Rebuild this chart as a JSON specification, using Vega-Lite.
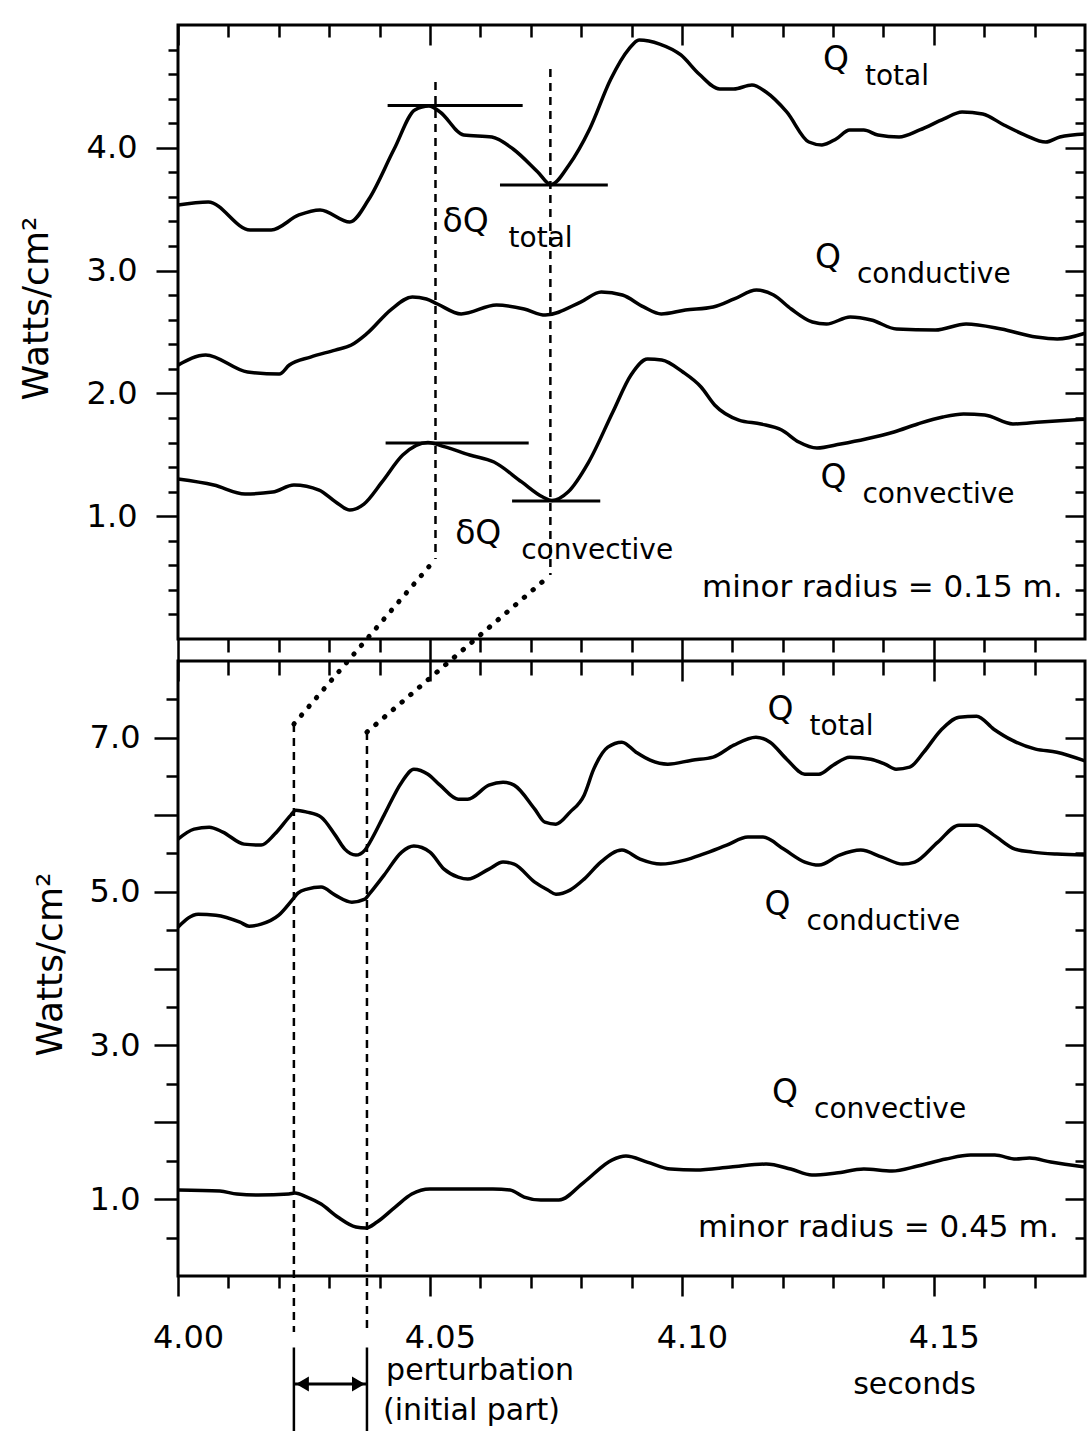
{
  "$schema": "https://vega.github.io/schema/vega-lite/v6.json",
  "background": "white",
  "padding": {"left": 16, "top": 22, "right": 0, "bottom": 0},
  "spacing": 22,
  "bounds": "flush",
  "config": {
    "font": "DejaVu Sans",
    "view": {"stroke": "black", "strokeWidth": 3},
    "axis": {
      "domain": false, "grid": false, "tickColor": "black", "tickWidth": 2.5,
      "labelColor": "black", "labelFont": "DejaVu Sans", "labelFontSize": 32,
      "labelFlush": false, "labelOverlap": false, "labelBound": false,
      "titleFont": "DejaVu Sans", "titleFontSize": 36, "titleFontWeight": "normal", "titleColor": "black"
    },
    "text": {"font": "DejaVu Sans", "color": "black"}
  },
  "datasets": {
    "tq": [
      {"s":"total","t":4.0000,"v":3.534},{"s":"total","t":4.0060,"v":3.559},{"s":"total","t":4.0143,"v":3.331},{"s":"total","t":4.0185,"v":3.331},{"s":"total","t":4.0240,"v":3.453},{"s":"total","t":4.0282,"v":3.494},{"s":"total","t":4.0341,"v":3.396},{"s":"total","t":4.0379,"v":3.583},{"s":"total","t":4.0429,"v":3.990},{"s":"total","t":4.0470,"v":4.308},{"s":"total","t":4.0498,"v":4.340},{"s":"total","t":4.0520,"v":4.292},{"s":"total","t":4.0567,"v":4.104},{"s":"total","t":4.0623,"v":4.088},{"s":"total","t":4.0665,"v":3.990},{"s":"total","t":4.0714,"v":3.803},{"s":"total","t":4.0740,"v":3.700},{"s":"total","t":4.0776,"v":3.860},{"s":"total","t":4.0817,"v":4.153},{"s":"total","t":4.0859,"v":4.560},{"s":"total","t":4.0895,"v":4.805},{"s":"total","t":4.0915,"v":4.878},{"s":"total","t":4.0956,"v":4.845},{"s":"total","t":4.0998,"v":4.756},{"s":"total","t":4.1034,"v":4.601},{"s":"total","t":4.1075,"v":4.479},{"s":"total","t":4.1103,"v":4.479},{"s":"total","t":4.1139,"v":4.511},{"s":"total","t":4.1167,"v":4.454},{"s":"total","t":4.1208,"v":4.292},{"s":"total","t":4.1252,"v":4.047},{"s":"total","t":4.1278,"v":4.023},{"s":"total","t":4.1306,"v":4.072},{"s":"total","t":4.1333,"v":4.145},{"s":"total","t":4.1361,"v":4.145},{"s":"total","t":4.1389,"v":4.104},{"s":"total","t":4.1431,"v":4.088},{"s":"total","t":4.1472,"v":4.145},{"s":"total","t":4.1520,"v":4.235},{"s":"total","t":4.1556,"v":4.292},{"s":"total","t":4.1597,"v":4.275},{"s":"total","t":4.1639,"v":4.186},{"s":"total","t":4.1681,"v":4.104},{"s":"total","t":4.1722,"v":4.047},{"s":"total","t":4.1750,"v":4.088},{"s":"total","t":4.1800,"v":4.112},
      {"s":"conductive","t":4.0000,"v":2.230},{"s":"conductive","t":4.0055,"v":2.313},{"s":"conductive","t":4.0138,"v":2.174},{"s":"conductive","t":4.0201,"v":2.158},{"s":"conductive","t":4.0221,"v":2.231},{"s":"conductive","t":4.0263,"v":2.296},{"s":"conductive","t":4.0312,"v":2.353},{"s":"conductive","t":4.0344,"v":2.394},{"s":"conductive","t":4.0374,"v":2.484},{"s":"conductive","t":4.0424,"v":2.687},{"s":"conductive","t":4.0465,"v":2.785},{"s":"conductive","t":4.0493,"v":2.769},{"s":"conductive","t":4.0515,"v":2.728},{"s":"conductive","t":4.0562,"v":2.647},{"s":"conductive","t":4.0632,"v":2.720},{"s":"conductive","t":4.0687,"v":2.687},{"s":"conductive","t":4.0729,"v":2.638},{"s":"conductive","t":4.0799,"v":2.744},{"s":"conductive","t":4.0840,"v":2.826},{"s":"conductive","t":4.0882,"v":2.801},{"s":"conductive","t":4.0924,"v":2.704},{"s":"conductive","t":4.0959,"v":2.647},{"s":"conductive","t":4.1007,"v":2.679},{"s":"conductive","t":4.1062,"v":2.704},{"s":"conductive","t":4.1104,"v":2.769},{"s":"conductive","t":4.1148,"v":2.842},{"s":"conductive","t":4.1182,"v":2.801},{"s":"conductive","t":4.1217,"v":2.687},{"s":"conductive","t":4.1259,"v":2.581},{"s":"conductive","t":4.1287,"v":2.565},{"s":"conductive","t":4.1334,"v":2.622},{"s":"conductive","t":4.1376,"v":2.598},{"s":"conductive","t":4.1426,"v":2.524},{"s":"conductive","t":4.1503,"v":2.516},{"s":"conductive","t":4.1564,"v":2.565},{"s":"conductive","t":4.1634,"v":2.524},{"s":"conductive","t":4.1703,"v":2.459},{"s":"conductive","t":4.1745,"v":2.443},{"s":"conductive","t":4.1800,"v":2.490},
      {"s":"convective","t":4.0000,"v":1.303},{"s":"convective","t":4.0071,"v":1.254},{"s":"convective","t":4.0133,"v":1.181},{"s":"convective","t":4.0188,"v":1.197},{"s":"convective","t":4.0230,"v":1.254},{"s":"convective","t":4.0280,"v":1.213},{"s":"convective","t":4.0313,"v":1.116},{"s":"convective","t":4.0341,"v":1.050},{"s":"convective","t":4.0369,"v":1.099},{"s":"convective","t":4.0405,"v":1.279},{"s":"convective","t":4.0446,"v":1.498},{"s":"convective","t":4.0496,"v":1.600},{"s":"convective","t":4.0530,"v":1.564},{"s":"convective","t":4.0579,"v":1.498},{"s":"convective","t":4.0627,"v":1.441},{"s":"convective","t":4.0682,"v":1.279},{"s":"convective","t":4.0724,"v":1.156},{"s":"convective","t":4.0742,"v":1.128},{"s":"convective","t":4.0774,"v":1.197},{"s":"convective","t":4.0815,"v":1.441},{"s":"convective","t":4.0863,"v":1.849},{"s":"convective","t":4.0899,"v":2.150},{"s":"convective","t":4.0932,"v":2.280},{"s":"convective","t":4.0960,"v":2.272},{"s":"convective","t":4.1002,"v":2.174},{"s":"convective","t":4.1038,"v":2.052},{"s":"convective","t":4.1065,"v":1.906},{"s":"convective","t":4.1113,"v":1.783},{"s":"convective","t":4.1157,"v":1.751},{"s":"convective","t":4.1198,"v":1.702},{"s":"convective","t":4.1232,"v":1.604},{"s":"convective","t":4.1268,"v":1.555},{"s":"convective","t":4.1315,"v":1.588},{"s":"convective","t":4.1365,"v":1.629},{"s":"convective","t":4.1421,"v":1.686},{"s":"convective","t":4.1468,"v":1.751},{"s":"convective","t":4.1518,"v":1.808},{"s":"convective","t":4.1559,"v":1.832},{"s":"convective","t":4.1601,"v":1.824},{"s":"convective","t":4.1657,"v":1.751},{"s":"convective","t":4.1712,"v":1.767},{"s":"convective","t":4.1800,"v":1.790}
    ],
    "bq": [
      {"s":"total","t":4.0000,"v":5.683},{"s":"total","t":4.0032,"v":5.813},{"s":"total","t":4.0062,"v":5.839},{"s":"total","t":4.0089,"v":5.774},{"s":"total","t":4.0131,"v":5.618},{"s":"total","t":4.0165,"v":5.605},{"s":"total","t":4.0192,"v":5.748},{"s":"total","t":4.0224,"v":5.995},{"s":"total","t":4.0234,"v":6.060},{"s":"total","t":4.0256,"v":6.034},{"s":"total","t":4.0284,"v":5.969},{"s":"total","t":4.0312,"v":5.735},{"s":"total","t":4.0331,"v":5.553},{"s":"total","t":4.0353,"v":5.475},{"s":"total","t":4.0371,"v":5.540},{"s":"total","t":4.0381,"v":5.644},{"s":"total","t":4.0409,"v":5.995},{"s":"total","t":4.0444,"v":6.424},{"s":"total","t":4.0468,"v":6.593},{"s":"total","t":4.0496,"v":6.528},{"s":"total","t":4.0520,"v":6.385},{"s":"total","t":4.0556,"v":6.203},{"s":"total","t":4.0575,"v":6.203},{"s":"total","t":4.0617,"v":6.385},{"s":"total","t":4.0645,"v":6.424},{"s":"total","t":4.0667,"v":6.385},{"s":"total","t":4.0708,"v":6.073},{"s":"total","t":4.0728,"v":5.904},{"s":"total","t":4.0750,"v":5.878},{"s":"total","t":4.0778,"v":6.034},{"s":"total","t":4.0806,"v":6.255},{"s":"total","t":4.0825,"v":6.593},{"s":"total","t":4.0853,"v":6.879},{"s":"total","t":4.0881,"v":6.944},{"s":"total","t":4.0909,"v":6.814},{"s":"total","t":4.0937,"v":6.710},{"s":"total","t":4.0972,"v":6.658},{"s":"total","t":4.1020,"v":6.710},{"s":"total","t":4.1062,"v":6.749},{"s":"total","t":4.1103,"v":6.905},{"s":"total","t":4.1147,"v":7.009},{"s":"total","t":4.1175,"v":6.944},{"s":"total","t":4.1208,"v":6.723},{"s":"total","t":4.1244,"v":6.528},{"s":"total","t":4.1272,"v":6.528},{"s":"total","t":4.1300,"v":6.645},{"s":"total","t":4.1333,"v":6.749},{"s":"total","t":4.1375,"v":6.723},{"s":"total","t":4.1403,"v":6.658},{"s":"total","t":4.1425,"v":6.593},{"s":"total","t":4.1452,"v":6.619},{"s":"total","t":4.1480,"v":6.814},{"s":"total","t":4.1514,"v":7.100},{"s":"total","t":4.1550,"v":7.269},{"s":"total","t":4.1585,"v":7.282},{"s":"total","t":4.1619,"v":7.113},{"s":"total","t":4.1655,"v":6.970},{"s":"total","t":4.1702,"v":6.853},{"s":"total","t":4.1744,"v":6.814},{"s":"total","t":4.1800,"v":6.700},
      {"s":"conductive","t":4.0000,"v":4.538},{"s":"conductive","t":4.0040,"v":4.707},{"s":"conductive","t":4.0075,"v":4.694},{"s":"conductive","t":4.0123,"v":4.603},{"s":"conductive","t":4.0141,"v":4.551},{"s":"conductive","t":4.0165,"v":4.577},{"s":"conductive","t":4.0200,"v":4.694},{"s":"conductive","t":4.0228,"v":4.902},{"s":"conductive","t":4.0238,"v":4.980},{"s":"conductive","t":4.0256,"v":5.033},{"s":"conductive","t":4.0284,"v":5.059},{"s":"conductive","t":4.0312,"v":4.954},{"s":"conductive","t":4.0345,"v":4.863},{"s":"conductive","t":4.0371,"v":4.902},{"s":"conductive","t":4.0381,"v":4.980},{"s":"conductive","t":4.0409,"v":5.215},{"s":"conductive","t":4.0444,"v":5.514},{"s":"conductive","t":4.0468,"v":5.592},{"s":"conductive","t":4.0500,"v":5.514},{"s":"conductive","t":4.0528,"v":5.293},{"s":"conductive","t":4.0556,"v":5.189},{"s":"conductive","t":4.0575,"v":5.163},{"s":"conductive","t":4.0617,"v":5.293},{"s":"conductive","t":4.0645,"v":5.384},{"s":"conductive","t":4.0667,"v":5.358},{"s":"conductive","t":4.0708,"v":5.124},{"s":"conductive","t":4.0734,"v":5.020},{"s":"conductive","t":4.0750,"v":4.967},{"s":"conductive","t":4.0778,"v":5.020},{"s":"conductive","t":4.0806,"v":5.163},{"s":"conductive","t":4.0839,"v":5.384},{"s":"conductive","t":4.0881,"v":5.540},{"s":"conductive","t":4.0917,"v":5.423},{"s":"conductive","t":4.0958,"v":5.358},{"s":"conductive","t":4.1006,"v":5.410},{"s":"conductive","t":4.1042,"v":5.488},{"s":"conductive","t":4.1089,"v":5.605},{"s":"conductive","t":4.1131,"v":5.709},{"s":"conductive","t":4.1161,"v":5.709},{"s":"conductive","t":4.1202,"v":5.553},{"s":"conductive","t":4.1244,"v":5.384},{"s":"conductive","t":4.1272,"v":5.345},{"s":"conductive","t":4.1313,"v":5.475},{"s":"conductive","t":4.1355,"v":5.540},{"s":"conductive","t":4.1397,"v":5.449},{"s":"conductive","t":4.1438,"v":5.358},{"s":"conductive","t":4.1462,"v":5.384},{"s":"conductive","t":4.1508,"v":5.644},{"s":"conductive","t":4.1550,"v":5.865},{"s":"conductive","t":4.1585,"v":5.865},{"s":"conductive","t":4.1619,"v":5.735},{"s":"conductive","t":4.1661,"v":5.553},{"s":"conductive","t":4.1696,"v":5.514},{"s":"conductive","t":4.1744,"v":5.488},{"s":"conductive","t":4.1800,"v":5.475},
      {"s":"convective","t":4.0000,"v":1.118},{"s":"convective","t":4.0083,"v":1.105},{"s":"convective","t":4.0117,"v":1.066},{"s":"convective","t":4.0159,"v":1.053},{"s":"convective","t":4.0220,"v":1.066},{"s":"convective","t":4.0232,"v":1.079},{"s":"convective","t":4.0256,"v":1.027},{"s":"convective","t":4.0284,"v":0.936},{"s":"convective","t":4.0317,"v":0.767},{"s":"convective","t":4.0353,"v":0.637},{"s":"convective","t":4.0373,"v":0.624},{"s":"convective","t":4.0395,"v":0.702},{"s":"convective","t":4.0431,"v":0.897},{"s":"convective","t":4.0464,"v":1.066},{"s":"convective","t":4.0500,"v":1.131},{"s":"convective","t":4.0548,"v":1.131},{"s":"convective","t":4.0625,"v":1.131},{"s":"convective","t":4.0659,"v":1.118},{"s":"convective","t":4.0687,"v":1.027},{"s":"convective","t":4.0720,"v":0.988},{"s":"convective","t":4.0756,"v":0.988},{"s":"convective","t":4.0806,"v":1.222},{"s":"convective","t":4.0861,"v":1.508},{"s":"convective","t":4.0889,"v":1.560},{"s":"convective","t":4.0931,"v":1.482},{"s":"convective","t":4.0978,"v":1.391},{"s":"convective","t":4.1028,"v":1.378},{"s":"convective","t":4.1097,"v":1.417},{"s":"convective","t":4.1167,"v":1.456},{"s":"convective","t":4.1216,"v":1.391},{"s":"convective","t":4.1258,"v":1.313},{"s":"convective","t":4.1306,"v":1.339},{"s":"convective","t":4.1361,"v":1.391},{"s":"convective","t":4.1417,"v":1.365},{"s":"convective","t":4.1468,"v":1.430},{"s":"convective","t":4.1524,"v":1.521},{"s":"convective","t":4.1573,"v":1.573},{"s":"convective","t":4.1621,"v":1.573},{"s":"convective","t":4.1663,"v":1.521},{"s":"convective","t":4.1690,"v":1.534},{"s":"convective","t":4.1732,"v":1.482},{"s":"convective","t":4.1800,"v":1.417}
    ],
    "tbars": [
      {"t1":4.0416,"t2":4.0684,"v":4.345},
      {"t1":4.0639,"t2":4.0853,"v":3.697},
      {"t1":4.0412,"t2":4.0696,"v":1.596},
      {"t1":4.0663,"t2":4.0838,"v":1.124}
    ],
    "tdash": [
      {"g":"A","t":4.0511,"v":4.536},{"g":"A","t":4.0511,"v":0.651},
      {"g":"B","t":4.0739,"v":4.642},{"g":"B","t":4.0739,"v":0.521}
    ],
    "bdot": [
      {"g":"A","t":4.0511,"v":9.327},{"g":"A","t":4.0230,"v":7.180},
      {"g":"B","t":4.0739,"v":9.119},{"g":"B","t":4.0375,"v":7.076}
    ],
    "bdash": [
      {"g":"A","t":4.0230,"v":7.180},{"g":"A","t":4.0230,"v":-0.73},
      {"g":"B","t":4.0375,"v":7.076},{"g":"B","t":4.0375,"v":-0.73}
    ],
    "bsolid": [
      {"g":"A","t":4.0230,"v":-0.93},{"g":"A","t":4.0230,"v":-2.1},
      {"g":"B","t":4.0375,"v":-0.93},{"g":"B","t":4.0375,"v":-2.1}
    ],
    "arrow": [{"t1":4.0230,"t2":4.0375,"v":-1.405}],
    "heads": [{"end":"left","t":4.0247,"v":-1.405},{"end":"right","t":4.0358,"v":-1.405}],
    "tlab": [
      {"main":"Q","sub":"total","kind":"Q","t":4.1280,"v":4.634},
      {"main":"Q","sub":"conductive","kind":"Q","t":4.1264,"v":3.021},
      {"main":"Q","sub":"convective","kind":"Q","t":4.1275,"v":1.230},
      {"main":"δQ","sub":"total","kind":"dQ","t":4.0525,"v":3.314},
      {"main":"δQ","sub":"convective","kind":"dQ","t":4.0550,"v":0.774}
    ],
    "tnote": [{"text":"minor radius = 0.15 m.","t":4.1040,"v":0.342}],
    "blab": [
      {"main":"Q","sub":"total","t":4.1170,"v":7.233},
      {"main":"Q","sub":"conductive","t":4.1164,"v":4.696},
      {"main":"Q","sub":"convective","t":4.1179,"v":2.250}
    ],
    "bnote": [{"text":"minor radius = 0.45 m.","t":4.1032,"v":0.507}],
    "bbelow": [
      {"text":"perturbation","t":4.0413,"v":-1.35},
      {"text":"(initial part)","t":4.0407,"v":-1.87},
      {"text":"seconds","t":4.1340,"v":-1.53}
    ]
  },
  "vconcat": [
    {
      "width": 907,
      "height": 614,
      "layer": [
        {
          "data": {"name": "tq"},
          "mark": {"type": "line", "color": "black", "strokeWidth": 3.5, "interpolate": "monotone", "strokeJoin": "round"},
          "encoding": {
            "x": {"field": "t", "type": "quantitative", "scale": {"domain": [4.0, 4.18], "nice": false, "zero": false},
              "axis": {"orient": "bottom", "values": [4,4.01,4.02,4.03,4.04,4.05,4.06,4.07,4.08,4.09,4.1,4.11,4.12,4.13,4.14,4.15,4.16,4.17], "labels": false, "title": null,
                "tickSize": {"condition": {"test": "abs(datum.value*20 - round(datum.value*20)) < 0.01", "value": 22}, "value": 13}}},
            "y": {"field": "v", "type": "quantitative", "scale": {"domain": [0, 5], "nice": false, "zero": false},
              "axis": {"orient": "left", "values": [0.2,0.4,0.6,0.8,1,1.2,1.4,1.6,1.8,2,2.2,2.4,2.6,2.8,3,3.2,3.4,3.6,3.8,4,4.2,4.4,4.6,4.8],
                "labelExpr": "abs(datum.value - round(datum.value)) < 0.01 ? format(datum.value, '.1f') : ''",
                "tickSize": {"condition": {"test": "abs(datum.value - round(datum.value)) < 0.01", "value": 22}, "value": 10},
                "labelPadding": 19,
                "title": "Watts/cm²", "titleX": -131, "titleY": 283, "titleAngle": 270, "titleBaseline": "alphabetic", "titleAlign": "center"}},
            "detail": {"field": "s"}
          }
        },
        {
          "data": {"name": "tbars"},
          "mark": {"type": "rule", "color": "black", "strokeWidth": 3},
          "encoding": {
            "x": {"field": "t1", "type": "quantitative", "scale": {"domain": [4.0, 4.18], "nice": false, "zero": false},
              "axis": {"orient": "top", "values": [4,4.01,4.02,4.03,4.04,4.05,4.06,4.07,4.08,4.09,4.1,4.11,4.12,4.13,4.14,4.15,4.16,4.17], "labels": false, "title": null,
                "tickSize": {"condition": {"test": "abs(datum.value*20 - round(datum.value*20)) < 0.01", "value": -20}, "value": -12}}},
            "x2": {"field": "t2"},
            "y": {"field": "v", "type": "quantitative", "scale": {"domain": [0, 5], "nice": false, "zero": false},
              "axis": {"orient": "right", "values": [0.2,0.4,0.6,0.8,1,1.2,1.4,1.6,1.8,2,2.2,2.4,2.6,2.8,3,3.2,3.4,3.6,3.8,4,4.2,4.4,4.6,4.8], "labels": false, "title": null,
                "tickSize": {"condition": {"test": "abs(datum.value - round(datum.value)) < 0.01", "value": -20}, "value": -10}}}
          }
        },
        {
          "data": {"name": "tdash"},
          "mark": {"type": "line", "color": "black", "strokeWidth": 2.5, "strokeDash": [8, 6]},
          "encoding": {
            "x": {"field": "t", "type": "quantitative", "scale": {"domain": [4.0, 4.18], "nice": false, "zero": false}, "axis": null},
            "y": {"field": "v", "type": "quantitative", "scale": {"domain": [0, 5], "nice": false, "zero": false}, "axis": null},
            "detail": {"field": "g"}
          }
        },
        {
          "data": {"name": "tlab"},
          "mark": {"type": "text", "align": "left", "baseline": "alphabetic", "fontSize": 33, "color": "black"},
          "encoding": {
            "x": {"field": "t", "type": "quantitative", "axis": null},
            "y": {"field": "v", "type": "quantitative", "axis": null},
            "text": {"field": "main"}
          }
        },
        {
          "data": {"name": "tlab"},
          "transform": [{"filter": "datum.kind == 'Q'"}],
          "mark": {"type": "text", "align": "left", "baseline": "alphabetic", "fontSize": 28, "dx": 42, "dy": 15, "color": "black"},
          "encoding": {
            "x": {"field": "t", "type": "quantitative", "axis": null},
            "y": {"field": "v", "type": "quantitative", "axis": null},
            "text": {"field": "sub"}
          }
        },
        {
          "data": {"name": "tlab"},
          "transform": [{"filter": "datum.kind == 'dQ'"}],
          "mark": {"type": "text", "align": "left", "baseline": "alphabetic", "fontSize": 28, "dx": 66, "dy": 15, "color": "black"},
          "encoding": {
            "x": {"field": "t", "type": "quantitative", "axis": null},
            "y": {"field": "v", "type": "quantitative", "axis": null},
            "text": {"field": "sub"}
          }
        },
        {
          "data": {"name": "tnote"},
          "mark": {"type": "text", "align": "left", "baseline": "alphabetic", "fontSize": 31, "color": "black"},
          "encoding": {
            "x": {"field": "t", "type": "quantitative", "axis": null},
            "y": {"field": "v", "type": "quantitative", "axis": null},
            "text": {"field": "text"}
          }
        }
      ],
      "resolve": {"axis": {"x": "independent", "y": "independent"}}
    },
    {
      "width": 907,
      "height": 615,
      "layer": [
        {
          "data": {"name": "bq"},
          "mark": {"type": "line", "color": "black", "strokeWidth": 3.5, "interpolate": "monotone", "strokeJoin": "round"},
          "encoding": {
            "x": {"field": "t", "type": "quantitative", "scale": {"domain": [4.0, 4.18], "nice": false, "zero": false},
              "axis": {"orient": "bottom", "values": [4,4.01,4.02,4.03,4.04,4.05,4.06,4.07,4.08,4.09,4.1,4.11,4.12,4.13,4.14,4.15,4.16,4.17],
                "labelExpr": "abs(datum.value*20 - round(datum.value*20)) < 0.01 ? format(datum.value, '.2f') : ''",
                "labelPadding": 26, "labelOffset": 10, "title": null,
                "tickSize": {"condition": {"test": "abs(datum.value*20 - round(datum.value*20)) < 0.01", "value": 20}, "value": 12}}},
            "y": {"field": "v", "type": "quantitative", "scale": {"domain": [0, 8], "nice": false, "zero": false},
              "axis": {"orient": "left", "values": [0.5,1,1.5,2,2.5,3,3.5,4,4.5,5,5.5,6,6.5,7,7.5],
                "labelExpr": "abs(datum.value - round(datum.value)) < 0.01 && round(datum.value) % 2 == 1 ? format(datum.value, '.1f') : ''",
                "tickSize": {"condition": {"test": "abs(datum.value - round(datum.value)) < 0.01", "value": 24}, "value": 12},
                "labelPadding": 14,
                "title": "Watts/cm²", "titleX": -117, "titleY": 303, "titleAngle": 270, "titleBaseline": "alphabetic", "titleAlign": "center"}},
            "detail": {"field": "s"}
          }
        },
        {
          "data": {"name": "bdash"},
          "mark": {"type": "line", "color": "black", "strokeWidth": 2.5, "strokeDash": [8, 6]},
          "encoding": {
            "x": {"field": "t", "type": "quantitative", "scale": {"domain": [4.0, 4.18], "nice": false, "zero": false},
              "axis": {"orient": "top", "values": [4,4.01,4.02,4.03,4.04,4.05,4.06,4.07,4.08,4.09,4.1,4.11,4.12,4.13,4.14,4.15,4.16,4.17], "labels": false, "title": null,
                "tickSize": {"condition": {"test": "abs(datum.value*20 - round(datum.value*20)) < 0.01", "value": -20}, "value": -14}}},
            "y": {"field": "v", "type": "quantitative", "scale": {"domain": [0, 8], "nice": false, "zero": false},
              "axis": {"orient": "right", "values": [0.5,1,1.5,2,2.5,3,3.5,4,4.5,5,5.5,6,6.5,7,7.5], "labels": false, "title": null,
                "tickSize": {"condition": {"test": "abs(datum.value - round(datum.value)) < 0.01", "value": -20}, "value": -10}}},
            "detail": {"field": "g"}
          }
        },
        {
          "data": {"name": "bdot"},
          "mark": {"type": "line", "color": "black", "strokeWidth": 5, "strokeDash": [0.5, 11], "strokeCap": "round"},
          "encoding": {
            "x": {"field": "t", "type": "quantitative", "scale": {"domain": [4.0, 4.18], "nice": false, "zero": false}, "axis": null},
            "y": {"field": "v", "type": "quantitative", "scale": {"domain": [0, 8], "nice": false, "zero": false}, "axis": null},
            "detail": {"field": "g"}
          }
        },
        {
          "data": {"name": "bsolid"},
          "mark": {"type": "line", "color": "black", "strokeWidth": 2.5},
          "encoding": {
            "x": {"field": "t", "type": "quantitative", "axis": null},
            "y": {"field": "v", "type": "quantitative", "axis": null},
            "detail": {"field": "g"}
          }
        },
        {
          "data": {"name": "arrow"},
          "mark": {"type": "rule", "color": "black", "strokeWidth": 3},
          "encoding": {
            "x": {"field": "t1", "type": "quantitative", "axis": null},
            "x2": {"field": "t2"},
            "y": {"field": "v", "type": "quantitative", "axis": null}
          }
        },
        {
          "data": {"name": "heads"},
          "transform": [{"filter": "datum.end == 'left'"}],
          "mark": {"type": "point", "shape": "triangle-left", "filled": true, "color": "black", "size": 220, "opacity": 1},
          "encoding": {
            "x": {"field": "t", "type": "quantitative", "axis": null},
            "y": {"field": "v", "type": "quantitative", "axis": null}
          }
        },
        {
          "data": {"name": "heads"},
          "transform": [{"filter": "datum.end == 'right'"}],
          "mark": {"type": "point", "shape": "triangle-right", "filled": true, "color": "black", "size": 220, "opacity": 1},
          "encoding": {
            "x": {"field": "t", "type": "quantitative", "axis": null},
            "y": {"field": "v", "type": "quantitative", "axis": null}
          }
        },
        {
          "data": {"name": "blab"},
          "mark": {"type": "text", "align": "left", "baseline": "alphabetic", "fontSize": 33, "color": "black"},
          "encoding": {
            "x": {"field": "t", "type": "quantitative", "axis": null},
            "y": {"field": "v", "type": "quantitative", "axis": null},
            "text": {"field": "main"}
          }
        },
        {
          "data": {"name": "blab"},
          "mark": {"type": "text", "align": "left", "baseline": "alphabetic", "fontSize": 28, "dx": 42, "dy": 15, "color": "black"},
          "encoding": {
            "x": {"field": "t", "type": "quantitative", "axis": null},
            "y": {"field": "v", "type": "quantitative", "axis": null},
            "text": {"field": "sub"}
          }
        },
        {
          "data": {"name": "bnote"},
          "mark": {"type": "text", "align": "left", "baseline": "alphabetic", "fontSize": 31, "color": "black"},
          "encoding": {
            "x": {"field": "t", "type": "quantitative", "axis": null},
            "y": {"field": "v", "type": "quantitative", "axis": null},
            "text": {"field": "text"}
          }
        },
        {
          "data": {"name": "bbelow"},
          "mark": {"type": "text", "align": "left", "baseline": "alphabetic", "fontSize": 30, "color": "black"},
          "encoding": {
            "x": {"field": "t", "type": "quantitative", "axis": null},
            "y": {"field": "v", "type": "quantitative", "axis": null},
            "text": {"field": "text"}
          }
        }
      ],
      "resolve": {"axis": {"x": "independent", "y": "independent"}}
    }
  ]
}
